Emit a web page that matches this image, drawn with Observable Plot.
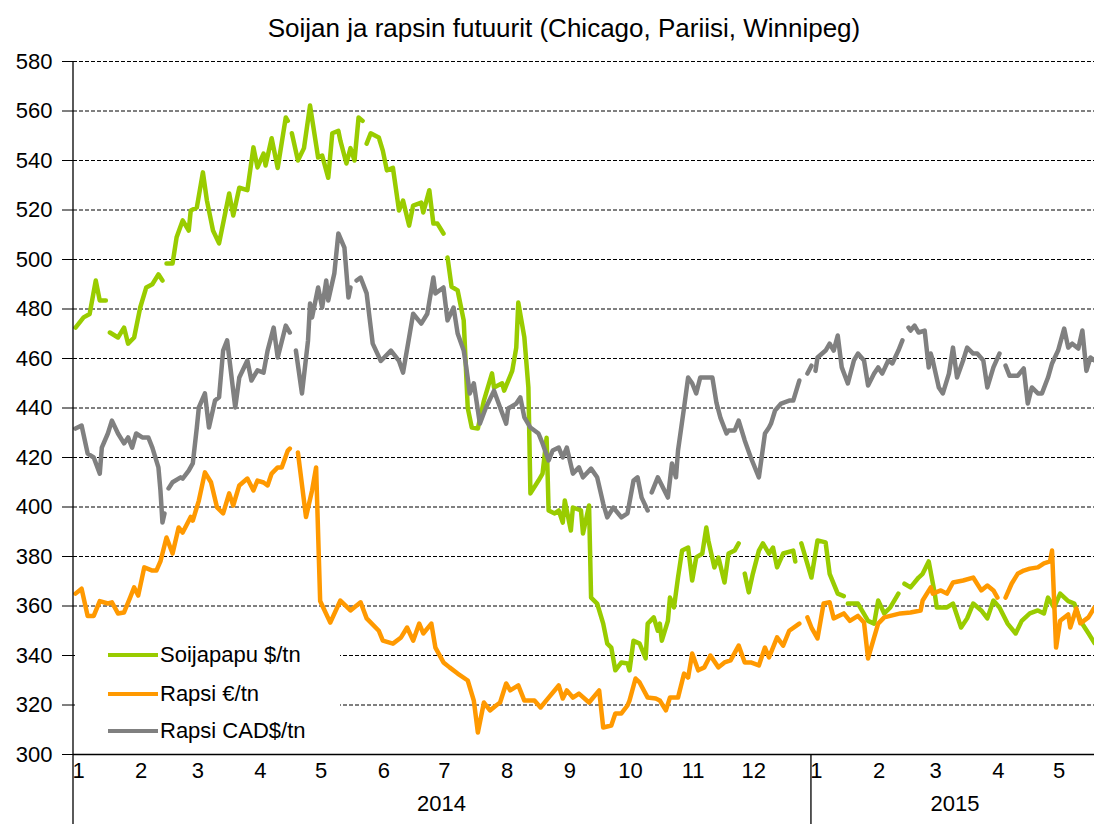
<!DOCTYPE html>
<html><head><meta charset="utf-8">
<script src="https://cdn.jsdelivr.net/npm/d3@7"></script>
<script src="https://cdn.jsdelivr.net/npm/@observablehq/plot@0.6"></script>
<style>
body{margin:0;background:#fff;font-family:"Liberation Sans",Arial,sans-serif;}
#wrap{position:relative;width:1094px;height:824px;overflow:hidden;background:#fff;}
#title{position:absolute;left:0;top:12px;width:1128px;text-align:center;font-size:26px;line-height:32px;color:#000;}
#legend{position:absolute;left:75px;top:628px;width:265px;height:122px;background:#fff;}
.item{position:absolute;left:33px;height:30px;display:flex;align-items:center;font-size:22px;color:#000;white-space:nowrap;}
.sw{width:50px;height:4px;margin-right:2px;}
</style></head>
<body>
<div id="wrap">
  <div id="chart"></div>
  <div id="title"></div>
  <div id="legend"></div>
</div>
<script>
const title = "Soijan ja rapsin futuurit (Chicago, Pariisi, Winnipeg)";
const seriesNames = ["Soijapapu $/tn", "Rapsi €/tn", "Rapsi CAD$/tn"];
const seriesColors = ["#99CC00", "#FF9900", "#808080"];
const yTicks = [300,320,340,360,380,400,420,440,460,480,500,520,540,560,580];
const xStart = "2014-01-01", xEnd = "2015-05-21", yearBreak = "2015-01-01";
const monthTicks = ["2014-01-01","2014-02-01","2014-03-01","2014-04-01","2014-05-01","2014-06-01","2014-07-01","2014-08-01","2014-09-01","2014-10-01","2014-11-01","2014-12-01","2015-01-01","2015-02-01","2015-03-01","2015-04-01","2015-05-01"];
const monthLabels = ["1","2","3","4","5","6","7","8","9","10","11","12","1","2","3","4","5"];
const yearDates = ["2014-07-02","2015-03-13"];
const yearLabels = ["2014","2015"];

const soy = [["2014-01-02",472.5],["2014-01-06",476.6],["2014-01-09",478],["2014-01-12",491.5],["2014-01-14",483.4],["2014-01-17",483.4],["2014-01-18",null],
["2014-01-19",470.5],["2014-01-23",468.5],["2014-01-26",472.5],["2014-01-28",466],["2014-01-31",468.5],["2014-02-03",480.6],["2014-02-06",488.7],["2014-02-09",490],["2014-02-12",494],["2014-02-14",491.5],["2014-02-15",null],
["2014-02-16",498.4],["2014-02-19",498.4],["2014-02-21",509],["2014-02-24",515.8],["2014-02-27",511.7],["2014-02-28",519.8],["2014-03-03",521],["2014-03-06",535.2],["2014-03-08",523.8],["2014-03-11",511.7],["2014-03-14",506.5],["2014-03-17",518.6],["2014-03-19",526.7],["2014-03-21",517.8],["2014-03-24",529],["2014-03-28",528],["2014-03-31",545.3],["2014-04-02",537.2],["2014-04-05",542.8],["2014-04-06",538],["2014-04-09",549],["2014-04-12",537],["2014-04-16",557.4],["2014-04-17",556],["2014-04-18",null],
["2014-04-19",551],["2014-04-22",540],["2014-04-25",545],["2014-04-28",562.2],["2014-05-02",541.2],["2014-05-04",542],["2014-05-07",533],["2014-05-09",551],["2014-05-12",552],["2014-05-13",548],["2014-05-16",538.8],["2014-05-18",545],["2014-05-20",540],["2014-05-22",557.4],["2014-05-24",556],["2014-05-25",null],
["2014-05-26",546.8],["2014-05-28",551],["2014-06-01",549.3],["2014-06-03",544],["2014-06-05",536],["2014-06-08",537],["2014-06-11",519.8],["2014-06-13",523.8],["2014-06-16",513.7],["2014-06-18",521.8],["2014-06-22",523],["2014-06-23",519],["2014-06-26",528],["2014-06-28",514.5],["2014-06-30",514.5],["2014-07-03",510.5],["2014-07-04",null],
["2014-07-05",500.8],["2014-07-07",489],["2014-07-10",487.5],["2014-07-13",475.4],["2014-07-15",440],["2014-07-17",432.1],["2014-07-20",431.7],["2014-07-23",443],["2014-07-27",454],["2014-07-28",448.3],["2014-08-01",450],["2014-08-02",447],["2014-08-06",455],["2014-08-08",464.4],["2014-08-09",482.6],["2014-08-12",468.5],["2014-08-14",448.3],["2014-08-15",405.5],["2014-08-19",410.7],["2014-08-21",413.5],["2014-08-23",428],["2014-08-24",398.6],["2014-08-27",397.4],["2014-08-29",398.6],["2014-08-31",393.7],["2014-09-01",402.6],["2014-09-04",390.5],["2014-09-05",399.8],["2014-09-09",398.6],["2014-09-10",389.3],["2014-09-13",400.6],["2014-09-14",363.4],["2014-09-17",361],["2014-09-20",352.9],["2014-09-22",344.8],["2014-09-24",343.2],["2014-09-26",334],["2014-09-29",337.2],["2014-10-02",336.8],["2014-10-03",334],["2014-10-05",346],["2014-10-08",344.8],["2014-10-11",338.8],["2014-10-12",352.9],["2014-10-15",355.4],["2014-10-17",350],["2014-10-18",352.9],["2014-10-19",346],["2014-10-22",354],["2014-10-23",363.4],["2014-10-25",359.4],["2014-10-27",371.5],["2014-10-29",382.4],["2014-11-01",383.6],["2014-11-03",370.3],["2014-11-05",379.6],["2014-11-08",381.2],["2014-11-10",391.7],["2014-11-11",386.5],["2014-11-14",375.6],["2014-11-16",379.6],["2014-11-19",369.5],["2014-11-21",381.2],["2014-11-24",382.4],["2014-11-26",385.3],["2014-11-27",null],
["2014-11-29",373.1],["2014-12-01",365.5],["2014-12-03",373],["2014-12-06",382.4],["2014-12-08",385.3],["2014-12-11",381.2],["2014-12-13",383.6],["2014-12-15",375.6],["2014-12-18",381.2],["2014-12-23",382.4],["2014-12-24",378],["2014-12-25",null],
["2014-12-27",385.3],["2015-01-01",371.5],["2015-01-04",386.5],["2015-01-08",385.7],["2015-01-10",373],["2015-01-14",365],["2015-01-17",364],["2015-01-18",null],
["2015-01-19",361],["2015-01-24",361],["2015-01-29",354],["2015-02-01",352.9],["2015-02-03",362.2],["2015-02-06",357],["2015-02-09",359.4],["2015-02-13",365],["2015-02-14",null],
["2015-02-16",369],["2015-02-19",367.5],["2015-02-23",371.5],["2015-02-25",373],["2015-02-28",378],["2015-03-03",365],["2015-03-04",359.4],["2015-03-09",359.4],["2015-03-12",361],["2015-03-16",351.3],["2015-03-19",355],["2015-03-22",361],["2015-03-26",358.2],["2015-03-29",355],["2015-04-01",362.2],["2015-04-04",359.4],["2015-04-08",352.9],["2015-04-12",348.9],["2015-04-15",354],["2015-04-19",357],["2015-04-23",358.2],["2015-04-26",357],["2015-04-28",363.4],["2015-05-01",359.4],["2015-05-04",365],["2015-05-08",362],["2015-05-11",361],["2015-05-14",354],["2015-05-18",349],["2015-05-21",345]];

const rapsiEur = [["2014-01-02",365],["2014-01-05",367],["2014-01-08",356],["2014-01-11",356],["2014-01-14",362],["2014-01-18",361],["2014-01-20",361.5],["2014-01-23",357],["2014-01-26",357.4],["2014-01-29",363.4],["2014-01-31",367.5],["2014-02-02",364.2],["2014-02-05",375.6],["2014-02-09",374.3],["2014-02-11",374.3],["2014-02-13",378],["2014-02-16",387.7],["2014-02-19",381.2],["2014-02-22",391.7],["2014-02-24",389.7],["2014-02-28",396],["2014-03-01",394.5],["2014-03-04",402.6],["2014-03-07",414],["2014-03-10",410],["2014-03-13",399.8],["2014-03-16",397.4],["2014-03-19",405.5],["2014-03-21",400.6],["2014-03-24",408.7],["2014-03-28",411.5],["2014-03-31",406.7],["2014-04-02",410.7],["2014-04-05",409.9],["2014-04-07",408.7],["2014-04-09",413.5],["2014-04-12",416],["2014-04-14",416],["2014-04-17",422.8],["2014-04-18",423.6],["2014-04-20",null],
["2014-04-22",422],["2014-04-26",396],["2014-04-29",406.7],["2014-05-01",416],["2014-05-03",362],["2014-05-08",353.3],["2014-05-13",362.2],["2014-05-18",358.2],["2014-05-23",361.5],["2014-05-26",355],["2014-06-01",350],["2014-06-03",346],["2014-06-08",344.8],["2014-06-12",347.3],["2014-06-15",351.3],["2014-06-18",346],["2014-06-21",352.9],["2014-06-23",348.9],["2014-06-27",352.9],["2014-06-29",343.2],["2014-07-03",337.2],["2014-07-06",335.2],["2014-07-10",332.7],["2014-07-15",329.9],["2014-07-18",321.8],["2014-07-20",308.9],["2014-07-23",321],["2014-07-26",317.8],["2014-07-29",319.8],["2014-07-31",321],["2014-08-03",328.7],["2014-08-05",325.9],["2014-08-09",327.9],["2014-08-12",321.8],["2014-08-17",321.8],["2014-08-20",319],["2014-08-24",323],["2014-08-29",327.9],["2014-08-31",322.6],["2014-09-02",325.9],["2014-09-05",323],["2014-09-08",324.6],["2014-09-13",321],["2014-09-18",325.9],["2014-09-20",310.9],["2014-09-24",311.7],["2014-09-26",316.6],["2014-09-29",316.6],["2014-10-02",319.8],["2014-10-03",321.8],["2014-10-06",330.7],["2014-10-08",329.1],["2014-10-12",323],["2014-10-16",322.6],["2014-10-18",321.8],["2014-10-21",317.8],["2014-10-23",323],["2014-10-27",323],["2014-10-30",332.7],["2014-11-01",331.1],["2014-11-03",340.8],["2014-11-06",334],["2014-11-09",335.2],["2014-11-12",340],["2014-11-16",335.2],["2014-11-19",337.2],["2014-11-22",338],["2014-11-26",344],["2014-11-29",337.2],["2014-12-02",337.2],["2014-12-06",336],["2014-12-09",343.2],["2014-12-11",339.2],["2014-12-15",347.3],["2014-12-18",344],["2014-12-21",350],["2014-12-26",352.9],["2014-12-28",null],
["2014-12-30",355.4],["2015-01-01",351.3],["2015-01-04",346.9],["2015-01-07",361],["2015-01-10",361.5],["2015-01-12",355],["2015-01-17",357],["2015-01-20",354],["2015-01-24",356],["2015-01-27",353.3],["2015-01-29",338.8],["2015-02-01",347.3],["2015-02-03",352.9],["2015-02-06",355.4],["2015-02-09",356],["2015-02-14",357],["2015-02-19",357.4],["2015-02-24",358.2],["2015-02-25",362.2],["2015-03-01",367.5],["2015-03-02",365],["2015-03-06",366.3],["2015-03-09",365],["2015-03-12",369.5],["2015-03-17",370.3],["2015-03-22",371.5],["2015-03-26",366.3],["2015-03-29",368.3],["2015-04-01",366.3],["2015-04-03",363.4],["2015-04-05",null],
["2015-04-07",363.4],["2015-04-10",369],["2015-04-13",373],["2015-04-16",374.3],["2015-04-19",375.1],["2015-04-23",375.6],["2015-04-26",377.2],["2015-04-29",378],["2015-04-30",382.4],["2015-05-02",343.2],["2015-05-04",354],["2015-05-08",356.6],["2015-05-09",351.3],["2015-05-12",359],["2015-05-14",353],["2015-05-18",355.4],["2015-05-21",359.4]];

const rapsiCad = [["2014-01-02",431.7],["2014-01-05",432.9],["2014-01-08",421.6],["2014-01-11",420],["2014-01-14",413.5],["2014-01-15",424],["2014-01-18",429.7],["2014-01-20",434.9],["2014-01-23",429.7],["2014-01-26",425.7],["2014-01-28",428.1],["2014-01-30",424],["2014-02-01",429.7],["2014-02-04",428.1],["2014-02-07",428.1],["2014-02-09",424],["2014-02-12",416],["2014-02-13",406.7],["2014-02-14",393.7],["2014-02-15",397.4],["2014-02-16",null],
["2014-02-17",407.5],["2014-02-19",410],["2014-02-23",412],["2014-02-24",411.5],["2014-02-27",414.7],["2014-03-01",417.6],["2014-03-03",432.1],["2014-03-04",440.2],["2014-03-07",445.9],["2014-03-09",432.1],["2014-03-12",443],["2014-03-14",444.3],["2014-03-16",463.2],["2014-03-18",467.3],["2014-03-22",440.2],["2014-03-24",452.3],["2014-03-28",459.2],["2014-03-30",451.1],["2014-04-02",455.2],["2014-04-05",454.3],["2014-04-07",463.2],["2014-04-10",472.5],["2014-04-12",460.4],["2014-04-16",473.3],["2014-04-18",470.5],["2014-04-19",null],
["2014-04-21",463.2],["2014-04-24",445.9],["2014-04-27",467.3],["2014-04-28",482.2],["2014-04-29",476.6],["2014-05-02",488.7],["2014-05-04",480.6],["2014-05-06",491.5],["2014-05-07",483.4],["2014-05-10",494.3],["2014-05-12",510.5],["2014-05-15",504.8],["2014-05-17",484.6],["2014-05-18",488.7],["2014-05-19",null],
["2014-05-21",491.5],["2014-05-23",492.7],["2014-05-26",486.3],["2014-05-27",479.4],["2014-05-29",466],["2014-06-02",459],["2014-06-07",463.2],["2014-06-11",459],["2014-06-13",454.3],["2014-06-16",468.5],["2014-06-18",478.1],["2014-06-22",474.1],["2014-06-25",478.1],["2014-06-28",492.7],["2014-06-29",486.3],["2014-07-03",488.7],["2014-07-05",475.4],["2014-07-08",480.6],["2014-07-10",470.1],["2014-07-13",463.2],["2014-07-14",458],["2014-07-16",445.9],["2014-07-18",450],["2014-07-21",433.7],["2014-07-24",440.2],["2014-07-28",447],["2014-07-31",440.2],["2014-08-03",433.7],["2014-08-04",439.8],["2014-08-08",441.8],["2014-08-10",444.3],["2014-08-12",436.2],["2014-08-15",432.1],["2014-08-19",429.7],["2014-08-21",425.7],["2014-08-24",418.8],["2014-08-26",422.8],["2014-08-29",424],["2014-08-31",420],["2014-09-02",424],["2014-09-05",413.5],["2014-09-08",416],["2014-09-10",412],["2014-09-14",415.5],["2014-09-17",412],["2014-09-20",401.4],["2014-09-22",395.8],["2014-09-25",399.8],["2014-09-29",395.8],["2014-10-02",397.4],["2014-10-05",410.7],["2014-10-07",412],["2014-10-09",403.8],["2014-10-12",398.6],["2014-10-13",null],
["2014-10-14",405.9],["2014-10-17",412],["2014-10-22",403.8],["2014-10-24",417.6],["2014-10-26",412],["2014-10-27",422.8],["2014-10-30",440.2],["2014-11-01",452.3],["2014-11-03",450],["2014-11-05",445.9],["2014-11-07",452.3],["2014-11-11",452.3],["2014-11-13",452.3],["2014-11-15",442.2],["2014-11-17",436],["2014-11-20",429.7],["2014-11-21",430.9],["2014-11-24",430.9],["2014-11-26",434.9],["2014-11-29",426.9],["2014-12-02",420],["2014-12-06",412],["2014-12-09",429.7],["2014-12-11",432.1],["2014-12-12",433.7],["2014-12-14",439],["2014-12-17",441.8],["2014-12-21",443],["2014-12-23",443],["2014-12-26",451.1],["2014-12-28",null],
["2014-12-30",453.9],["2015-01-01",457.1],["2015-01-02",null],
["2015-01-03",455],["2015-01-04",460.4],["2015-01-08",463.2],["2015-01-10",466],["2015-01-12",463.2],["2015-01-14",469.3],["2015-01-16",456.4],["2015-01-19",449.9],["2015-01-22",459.2],["2015-01-24",462],["2015-01-27",459.2],["2015-01-29",449.1],["2015-02-01",453.9],["2015-02-03",456.4],["2015-02-05",453.9],["2015-02-08",459.2],["2015-02-10",458],["2015-02-13",463.2],["2015-02-15",467.3],["2015-02-16",null],
["2015-02-18",472.5],["2015-02-19",471.3],["2015-02-21",473.3],["2015-02-23",470.5],["2015-02-26",471.3],["2015-02-28",456.4],["2015-03-01",462],["2015-03-02",459.2],["2015-03-05",448.3],["2015-03-07",445.9],["2015-03-10",453.9],["2015-03-12",464.4],["2015-03-14",452.3],["2015-03-17",459.2],["2015-03-19",464.4],["2015-03-22",462],["2015-03-24",462],["2015-03-27",459.2],["2015-03-29",448.3],["2015-04-01",456.4],["2015-04-04",462],["2015-04-05",null],
["2015-04-07",457.1],["2015-04-09",453],["2015-04-13",453],["2015-04-16",456],["2015-04-18",441.8],["2015-04-20",448.3],["2015-04-23",445.9],["2015-04-25",445.9],["2015-04-28",452.3],["2015-04-30",458],["2015-05-03",463.2],["2015-05-06",472.1],["2015-05-08",464.4],["2015-05-10",466],["2015-05-13",464],["2015-05-15",471.3],["2015-05-17",455],["2015-05-19",460.4],["2015-05-21",459.2]];

const parse = d3.utcParse("%Y-%m-%d");
const rows = (arr) => arr.map(([d, v]) => ({date: parse(d), value: v}));
const seriesData = [rows(soy), rows(rapsiEur), rows(rapsiCad)];
const months = monthTicks.map((d, i) => ({date: parse(d), label: monthLabels[i]}));
const years = yearDates.map((d, i) => ({date: parse(d), label: yearLabels[i]}));
const font = '"Liberation Sans", Arial, sans-serif';

const plot = Plot.plot({
  width: 1094, height: 824,
  marginLeft: 73, marginRight: 0, marginTop: 61, marginBottom: 70,
  style: {fontFamily: font, fontSize: "22px", color: "#000", background: "#fff", overflow: "visible"},
  x: {type: "utc", domain: [parse(xStart), parse(xEnd)]},
  y: {domain: [300, 580]},
  marks: [
    Plot.ruleY(yTicks.filter(v => v > 300), {stroke: "#000", strokeWidth: 1, strokeDasharray: "4,2"}),
    Plot.axisY({ticks: yTicks, tickSize: 11, tickPadding: 10, label: null, tickFormat: d => String(d), fontSize: 22}),
    Plot.axisX({ticks: [], label: null, tickSize: 0}),
    ...seriesData.map((data, i) => Plot.line(data, {x: "date", y: "value", stroke: seriesColors[i], strokeWidth: 4.5, strokeLinejoin: "round", strokeLinecap: "round"})),
    Plot.ruleY([300], {stroke: "#000", strokeWidth: 1.3}),
    Plot.text(months, {x: "date", text: "label", frameAnchor: "bottom", dy: 23, dx: 5, fontSize: 22, fill: "#000"}),
    Plot.text(years, {x: "date", text: "label", frameAnchor: "bottom", dy: 56, fontSize: 22, fill: "#000"})
  ]
});

// axis line and year separator extending below the frame, positioned via the plot's scales
const xs = plot.scale("x"), ys = plot.scale("y");
const svg = d3.select(plot);
const x0 = xs.apply(parse(xStart)), xb = xs.apply(parse(yearBreak));
svg.append("line").attr("x1", x0).attr("x2", x0).attr("y1", ys.apply(580)).attr("y2", 824).attr("stroke", "#000").attr("stroke-width", 1.3);
svg.append("line").attr("x1", xb).attr("x2", xb).attr("y1", ys.apply(300)).attr("y2", 824).attr("stroke", "#000").attr("stroke-width", 1.3);

document.getElementById("chart").append(plot);
document.getElementById("title").textContent = title;

const legend = document.getElementById("legend");
const centers = [27, 66, 103];
seriesNames.forEach((name, i) => {
  const item = document.createElement("div");
  item.className = "item";
  item.style.top = (centers[i] - 15) + "px";
  const sw = document.createElement("span");
  sw.className = "sw";
  sw.style.background = seriesColors[i];
  const t = document.createElement("span");
  t.textContent = name;
  item.append(sw, t);
  legend.append(item);
});
</script>
</body></html>
